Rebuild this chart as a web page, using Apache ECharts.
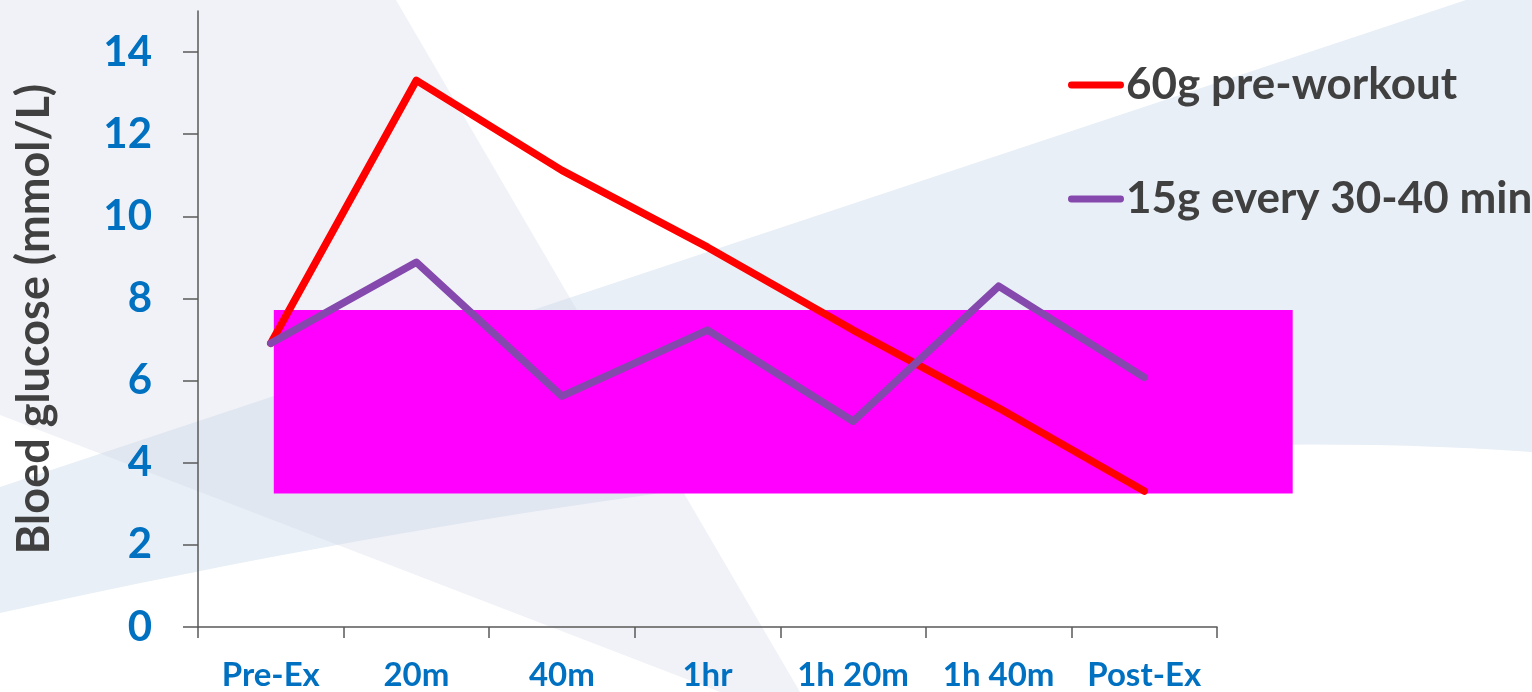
<!DOCTYPE html>
<html><head><meta charset="utf-8">
<script src="https://cdn.jsdelivr.net/npm/echarts@6/dist/echarts.min.js"></script>
<style>html,body{margin:0;padding:0;background:#fff}#c{width:1532px;height:692px}</style>
</head><body><div id="c"></div>
<script>
const categories = ['Pre-Ex', '20m', '40m', '1hr', '1h 20m', '1h 40m', 'Post-Ex'];
const seriesNames = ['60g pre-workout', '15g every 30-40 min'];
const values60g = [6.91, 13.31, 11.12, 9.25, 7.23, 5.33, 3.31];
const values15g = [6.91, 8.88, 5.62, 7.23, 5.01, 8.30, 6.08];
const yTicks = [0, 2, 4, 6, 8, 10, 12, 14];
const targetRange = [3.25, 7.72];

const FONT = 'Lato';
const chart = echarts.init(document.getElementById('c'), null, {renderer: 'canvas'});

// decorative slide background: blue band with a curved lower edge
function bandPoints() {
  const pts = [[0, 487], [1466, 0], [1532, 0], [1532, 452]];
  const p0 = [1532, 452], c = [925, 409], p2 = [0, 613];
  for (let i = 1; i <= 40; i++) {
    const t = i / 40, u = 1 - t;
    pts.push([u*u*p0[0] + 2*u*t*c[0] + t*t*p2[0], u*u*p0[1] + 2*u*t*c[1] + t*t*p2[1]]);
  }
  return pts;
}
const background = [
  {type: 'polygon', id: 'bgBlue', z: -100, silent: true,
   shape: {points: bandPoints()},
   style: {fill: '#e8eff7'}},
  {type: 'polygon', id: 'bgLav', z: -99, silent: true,
   shape: {points: [[0,0],[396,0],[800,692],[720,692],[0,415]]},
   style: {fill: 'rgba(209,212,227,0.3)'}}
];

const legendIcon = 'path://M3.5,0 L53.5,0 A3.5,3.5 0 0 1 53.5,7 L3.5,7 A3.5,3.5 0 0 1 3.5,0 Z';

const option = {
  animation: false,
  backgroundColor: '#ffffff',
  grid: {left: 198, right: 315, top: 11, bottom: 65, containLabel: false},
  legend: {
    orient: 'vertical', left: 1063, top: 58, itemGap: 70,
    itemWidth: 56, itemHeight: 7,
    icon: legendIcon,
    textStyle: {fontFamily: FONT, fontWeight: 'bold', fontSize: 44, color: '#404040', padding: [0, 0, 0, -3]},
    data: seriesNames
  },
  xAxis: {
    type: 'category', data: categories, boundaryGap: true,
    axisLine: {lineStyle: {color: '#595959', width: 1.5}},
    axisTick: {show: true, length: 11, interval: 0, lineStyle: {color: '#595959', width: 1.5}},
    axisLabel: {interval: 0, margin: 32, fontFamily: FONT, fontWeight: 'bold', fontSize: 33, color: '#0070c0'},
    splitLine: {show: false}
  },
  yAxis: {
    type: 'value', min: 0, max: 15, interval: 2,
    name: 'Bloed glucose (mmol/L)', nameLocation: 'middle', nameGap: 141,
    nameTextStyle: {fontFamily: FONT, fontWeight: 'bold', fontSize: 45, color: '#404040'},
    axisLine: {show: true, lineStyle: {color: '#595959', width: 1.5}},
    axisTick: {show: true, length: 15, customValues: yTicks, lineStyle: {color: '#595959', width: 1.5}},
    axisLabel: {margin: 46, customValues: yTicks, fontFamily: FONT, fontWeight: 'bold', fontSize: 42, color: '#0070c0'},
    splitLine: {show: false}
  },
  series: [
    {name: seriesNames[0], type: 'line', data: values60g, symbol: 'none', z: 3,
     itemStyle: {color: '#ff0000'},
     lineStyle: {color: '#ff0000', width: 7.5, cap: 'round', join: 'round'}},
    {name: seriesNames[1], type: 'line', data: values15g, symbol: 'none', z: 4,
     itemStyle: {color: '#8548ad'},
     lineStyle: {color: '#8548ad', width: 7.5, cap: 'round', join: 'round'}}
  ],
  graphic: background
};
chart.setOption(option);

const yTop = chart.convertToPixel({yAxisIndex: 0}, targetRange[1]);
const yBot = chart.convertToPixel({yAxisIndex: 0}, targetRange[0]);
const xFirst = chart.convertToPixel({xAxisIndex: 0}, categories[0]);
const xLast = chart.convertToPixel({xAxisIndex: 0}, categories[categories.length - 1]);
const band = (xLast - xFirst) / (categories.length - 1);
const left = xFirst + 3;
const right = xLast + band * 1.02;
chart.setOption({
  graphic: background.concat([{
    type: 'rect', id: 'target', z: 1, silent: true,
    shape: {x: left, y: yTop, width: right - left, height: yBot - yTop},
    style: {fill: '#ff00ff'}
  }])
});
</script>
</body></html>
